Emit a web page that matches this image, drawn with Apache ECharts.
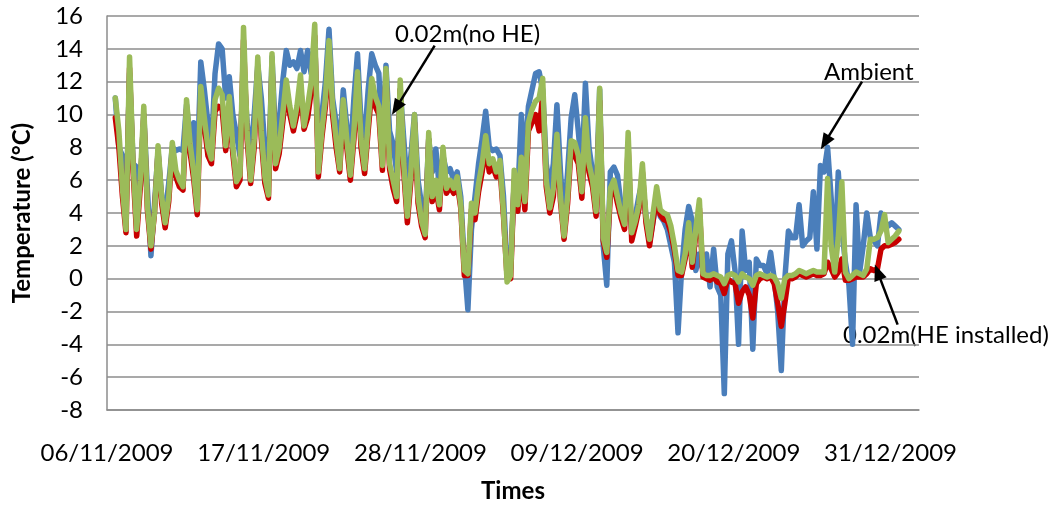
<!DOCTYPE html>
<html>
<head>
<meta charset="utf-8">
<script src="https://cdn.jsdelivr.net/npm/echarts@6/dist/echarts.min.js"></script>
<style>
  html, body { margin: 0; padding: 0; background: #fff; }
  #chart { width: 1062px; height: 508px; }
</style>
</head>
<body>
<div id="chart"></div>
<script>
// Readings every 6 hours, starting 06/11/2009 14:00 (02:00, 08:00, 14:00, 20:00 per day)
const startDate = Date.UTC(2009, 10, 6);   // axis origin: 06/11/2009 00:00
const firstReadingHour = 14;
const stepHours = 6;

const ambient = [
  11.0, 8.0,
  7.5, 4.0, 12.5, 7.0,
  6.8, 5.5, 10.0, 5.5,
  1.4, 4.5, 7.8, 5.0,
  4.0, 5.8, 8.0, 7.8,
  7.9, 7.8, 10.6, 8.4,
  9.5, 6.5, 13.2, 11.5,
  9.5, 8.0, 12.5, 14.3,
  14.0, 11.0, 12.3, 10.0,
  8.8, 7.5, 13.0, 9.5,
  7.5, 10.0, 13.0, 11.0,
  8.0, 6.0, 13.5, 8.5,
  9.5, 12.0, 13.9, 13.0,
  13.2, 12.8, 13.9, 12.6,
  13.9, 12.5, 14.5, 7.5,
  10.0, 12.0, 15.2, 11.0,
  9.5, 8.0, 11.5, 9.3,
  7.5, 11.0, 13.7, 9.5,
  8.5, 11.5, 13.7, 13.0,
  12.5, 8.0, 13.0, 9.0,
  8.2, 6.5, 11.5, 8.5,
  5.5, 7.5, 10.0, 6.0,
  4.5, 3.5, 8.5, 6.5,
  7.9, 5.5, 7.5, 6.5,
  6.7, 6.0, 6.5, 5.0,
  1.0, -1.9, 3.0, 5.0,
  7.0, 8.5, 10.2, 8.0,
  7.8, 7.9, 7.5, 5.0,
  0.5, 0.6, 6.0, 5.0,
  10.0, 7.0, 10.5, 11.5,
  12.5, 12.6, 11.5, 7.0,
  5.5, 7.0, 10.6, 6.5,
  3.5, 6.5, 9.8, 11.2,
  9.0, 6.5, 11.9, 8.0,
  6.5, 4.8, 11.5, 2.0,
  -0.4, 6.5, 6.8, 6.3,
  4.5, 3.5, 6.0, 3.0,
  3.8, 5.0, 6.0, 3.8,
  2.2, 3.5, 5.0, 3.8,
  3.5, 3.0, 2.0, 1.0,
  -3.3, 0.5, 3.0, 4.4,
  3.5, 0.5, 1.5, 0.5,
  1.5, -0.5, 1.8, -0.5,
  -1.0, -7.0, 1.5, 2.3,
  0.5, -4.0, 2.9, 0.5,
  1.0, -4.3, 1.2, 0.8,
  0.8, 0.3, 1.6, 0.0,
  -2.0, -5.6, 0.0, 2.9,
  2.5, 2.5, 4.5, 2.0,
  2.3, 2.5, 5.3, 1.8,
  6.9, 6.5, 8.0, 4.9,
  0.8, 6.5, 3.0, 1.0,
  -0.4, -4.0, 4.5, 0.4,
  2.0, 4.0, 2.5, 2.3,
  2.0, 4.0, 3.5, 3.2,
  3.4, 3.2, 3.0
];

const heInstalled = [
  9.8, 8.0,
  5.0, 2.8, 12.8, 6.5,
  2.6, 5.5, 10.0, 4.2,
  1.8, 4.0, 7.7, 4.6,
  3.1, 4.7, 7.9, 6.2,
  5.6, 5.4, 10.3, 7.7,
  6.1, 3.9, 11.0, 9.3,
  7.5, 7.0, 10.2, 10.5,
  10.3, 7.8, 10.5, 7.6,
  5.6, 6.0, 14.5, 8.5,
  5.8, 8.0, 12.8, 8.5,
  5.8, 4.9, 13.0, 6.7,
  7.6, 9.5, 11.5, 10.0,
  9.0, 10.0, 11.8, 9.1,
  9.8, 11.4, 14.8, 6.2,
  8.6, 10.5, 13.8, 10.0,
  8.0, 6.5, 10.4, 8.0,
  6.0, 8.5, 12.0, 8.0,
  6.4, 9.0, 11.5, 10.5,
  10.0, 6.6, 12.2, 6.7,
  5.5, 4.7, 11.5, 6.5,
  3.4, 6.0, 9.5, 4.6,
  3.2, 2.5, 8.5, 4.7,
  5.5, 4.2, 7.5, 5.2,
  5.6, 5.2, 5.8, 4.3,
  0.2, 0.2, 4.2, 3.6,
  5.3, 6.5, 8.0, 6.5,
  6.8, 6.2, 6.8, 3.8,
  0.1, 0.0, 6.0, 4.1,
  6.8, 4.2, 9.0, 9.5,
  10.0, 9.0, 11.2, 5.6,
  4.0, 5.0, 8.3, 4.7,
  2.4, 4.6, 8.0, 7.5,
  7.0, 4.9, 9.0, 6.5,
  5.6, 3.8, 10.8, 2.3,
  1.3, 5.0, 5.6, 4.6,
  3.7, 3.0, 8.0, 2.3,
  3.2, 4.2, 6.5, 3.4,
  2.0, 3.5, 5.0, 3.9,
  3.6, 3.5, 2.8, 1.7,
  0.2, 0.2, 1.2, 3.0,
  0.7, 2.7, 4.3, 0.1,
  0.0, -0.1, 0.1, -0.2,
  -0.3, -0.9, 0.0, -0.2,
  -0.3, -1.5, -0.8, -0.5,
  -1.0, -2.4, -0.3, 0.0,
  0.1, 0.0, 0.1, -0.3,
  -1.5, -2.9, -1.5, 0.1,
  0.0, 0.1, 0.3, 0.2,
  0.1, 0.2, 0.3, 0.2,
  0.2, 0.3, 1.0, 0.6,
  0.1, 0.4, 1.2, -0.1,
  -0.1, 0.0, 0.1, 0.1,
  0.1, 0.3, 0.6, 0.5,
  0.6, 1.8, 2.0, 2.0,
  2.1, 2.2, 2.4
];

const noHE = [
  11.0, 9.0,
  5.5, 3.0, 13.5, 7.0,
  3.0, 6.0, 10.5, 4.5,
  2.0, 4.0, 8.1, 5.0,
  3.4, 5.0, 8.3, 6.6,
  6.0, 5.6, 10.9, 8.2,
  6.5, 4.2, 11.7, 9.8,
  8.0, 7.3, 10.9, 11.6,
  11.2, 8.1, 11.1, 8.0,
  5.9, 6.3, 15.3, 9.0,
  6.0, 8.5, 13.5, 9.0,
  6.2, 5.1, 13.7, 7.0,
  8.0, 10.0, 12.1, 10.5,
  9.3, 10.5, 12.4, 9.3,
  10.5, 12.0, 15.5, 6.5,
  9.0, 11.0, 14.5, 10.5,
  8.5, 6.7, 10.9, 8.5,
  6.3, 9.0, 12.6, 8.5,
  6.7, 9.5, 12.2, 11.1,
  10.5, 6.9, 12.8, 7.0,
  6.0, 5.0, 12.1, 7.0,
  3.8, 6.5, 10.0, 5.0,
  3.5, 2.7, 8.9, 5.0,
  6.0, 4.5, 8.0, 5.5,
  6.0, 5.5, 6.2, 4.5,
  0.5, 0.3, 4.6, 4.0,
  5.8, 7.0, 8.7, 7.0,
  7.3, 6.5, 7.2, 4.0,
  -0.2, 0.2, 6.6, 4.5,
  7.4, 4.7, 9.5, 10.3,
  10.8, 11.0, 12.2, 6.0,
  4.3, 5.5, 8.8, 5.0,
  2.6, 5.0, 8.4, 8.3,
  7.5, 5.3, 9.8, 7.0,
  6.0, 4.1, 11.6, 2.5,
  1.6, 5.5, 6.0, 5.0,
  4.0, 3.3, 8.9, 2.8,
  3.5, 4.5, 7.0, 3.8,
  2.4, 4.0, 5.6, 4.2,
  4.0, 3.9, 3.2, 2.0,
  0.5, 0.4, 1.5, 3.4,
  1.0, 3.0, 4.8, 0.3,
  0.2, 0.2, 0.3, 0.2,
  0.1, -0.3, 0.2, 0.3,
  0.2, -0.2, 0.3, 0.1,
  0.0, -0.4, 0.2, 0.3,
  0.2, 0.1, 0.2, 0.1,
  -0.3, -1.2, 0.0, 0.2,
  0.2, 0.3, 0.5, 0.4,
  0.3, 0.4, 0.5, 0.4,
  0.4, 0.4, 6.1, 2.0,
  0.4, 2.5, 5.9, 0.4,
  0.0, 0.2, 0.4, 0.3,
  0.2, 0.6, 2.4, 2.4,
  2.5, 2.9, 3.9, 2.2,
  2.4, 2.6, 2.9
];

const yTicks = { min: -8, max: 16, step: 2 };
const xTicks = { min: 0, max: 57, step: 11 };   // days after 06/11/2009

// Annotation arrows: [fromDay, fromTemp, toDay, toTemp]
const arrowNoHE = [23.0, 14.2, 20.3, 10.4];
const arrowAmbient = [53.0, 12.0, 50.4, 8.3];
const arrowHE = [55.5, -2.8, 54.1, 0.4];

// ---------- build ----------
const dayOf = i => (firstReadingHour + i * stepHours) / 24;
const toPairs = arr => arr.map((v, i) => [dayOf(i), v]);

function fmtDate(dayOffset) {
  const d = new Date(startDate + Math.round(dayOffset) * 86400000);
  const dd = String(d.getUTCDate()).padStart(2, '0');
  const mm = String(d.getUTCMonth() + 1).padStart(2, '0');
  return dd + '/' + mm + '/' + d.getUTCFullYear();
}

const FONT = 'Lato';
const gridColor = '#8c8c8c';
const LW = 5.5;

const chart = echarts.init(document.getElementById('chart'), null, { renderer: 'canvas' });

const lineBase = {
  type: 'line',
  showSymbol: false,
  symbol: 'none',
  smooth: false,
  animation: false,
  silent: true
};

chart.setOption({
  animation: false,
  backgroundColor: '#ffffff',
  grid: { left: 107, right: 143, top: 16, bottom: 95, containLabel: false },
  xAxis: {
    type: 'value',
    min: xTicks.min, max: xTicks.max, interval: xTicks.step,
    name: 'Times',
    nameLocation: 'middle',
    nameGap: 69,
    nameTextStyle: { fontFamily: FONT, fontSize: 24, fontWeight: 'bold', color: '#000' },
    axisLine: { show: true, onZero: false, lineStyle: { color: gridColor, width: 1.5 } },
    axisTick: { show: false },
    splitLine: { show: false },
    axisLabel: {
      fontFamily: FONT, fontSize: 24, color: '#000', margin: 31,
      showMaxLabel: false,
      formatter: v => fmtDate(v)
    }
  },
  yAxis: {
    type: 'value',
    min: yTicks.min, max: yTicks.max, interval: yTicks.step,
    name: 'Temperature (°C)',
    nameLocation: 'middle',
    nameRotate: 90,
    nameGap: 73,
    nameTextStyle: { fontFamily: FONT, fontSize: 24, fontWeight: 'bold', color: '#000' },
    axisLine: { show: true, lineStyle: { color: gridColor, width: 1.5 } },
    axisTick: { show: false },
    splitLine: { show: true, lineStyle: { color: gridColor, width: 1.5 } },
    axisLabel: { fontFamily: FONT, fontSize: 24, color: '#000', margin: 24 }
  },
  series: [
    Object.assign({}, lineBase, {
      name: 'Ambient',
      data: toPairs(ambient),
      lineStyle: { color: '#4a7ebb', width: LW, join: 'round', cap: 'round' },
      itemStyle: { color: '#4a7ebb' },
      z: 2
    }),
    Object.assign({}, lineBase, {
      name: '0.02m(HE installed)',
      data: toPairs(heInstalled),
      lineStyle: { color: '#c80000', width: LW, join: 'round', cap: 'round' },
      itemStyle: { color: '#c80000' },
      z: 3
    }),
    Object.assign({}, lineBase, {
      name: '0.02m(no HE)',
      data: toPairs(noHE),
      lineStyle: { color: '#9bbb59', width: LW, join: 'round', cap: 'round' },
      itemStyle: { color: '#9bbb59' },
      z: 4,
      markLine: {
        silent: true,
        animation: false,
        symbol: ['none', 'triangle'],
        symbolSize: [13, 16],
        label: { show: false },
        lineStyle: { color: '#000', width: 2.5, type: 'solid' },
        emphasis: { disabled: true },
        data: [arrowNoHE, arrowAmbient, arrowHE].map(a => [
          { coord: [a[0], a[1]] }, { coord: [a[2], a[3]] }
        ])
      }
    })
  ],
  graphic: [
    { type: 'text', x: 395, y: 34, silent: true,
      style: { text: '0.02m(no HE)', fontFamily: FONT, fontSize: 24, fill: '#000', align: 'left', verticalAlign: 'middle' } },
    { type: 'text', x: 824, y: 72, silent: true,
      style: { text: 'Ambient', fontFamily: FONT, fontSize: 24, fill: '#000', align: 'left', verticalAlign: 'middle' } },
    { type: 'text', x: 843, y: 335, silent: true,
      style: { text: '0.02m(HE installed)', fontFamily: FONT, fontSize: 24, fill: '#000', align: 'left', verticalAlign: 'middle' } }
  ]
});
</script>
</body>
</html>
